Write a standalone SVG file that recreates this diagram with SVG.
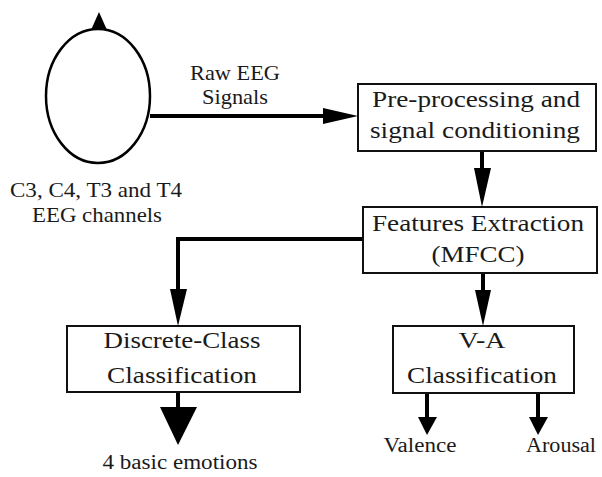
<svg xmlns="http://www.w3.org/2000/svg" width="602" height="477" viewBox="0 0 602 477">
<style>
text{font-family:'Liberation Serif',Tinos,'Times New Roman',Times,serif;fill:#1a1a1a;text-anchor:middle}
.bt{font-size:24px}
.lb{font-size:22px}
.sm{font-size:20px}
.box{fill:#fff;stroke:#111;stroke-width:2}
.ln{fill:none;stroke:#000;stroke-width:4}
.ah{fill:#000}
</style>
<rect width="602" height="477" fill="#fff"/>
<g id="head">
<polygon class="ah" points="99,12 91,30 107,30"/>
<ellipse cx="98" cy="96" rx="52" ry="67" fill="#fff" stroke="#000" stroke-width="2.5"/>
<text class="lb" x="96" y="197" textLength="172" lengthAdjust="spacingAndGlyphs">C3, C4, T3 and T4</text>
<text class="lb" x="97" y="222" textLength="130" lengthAdjust="spacingAndGlyphs">EEG channels</text>
</g>
<g id="connectors">
<line class="ln" x1="150" y1="116" x2="325" y2="116"/>
<polygon class="ah" points="323,108 358,116 323,124"/>
<text class="lb" x="235" y="80" textLength="90" lengthAdjust="spacingAndGlyphs">Raw EEG</text>
<text class="lb" x="235" y="104" textLength="66" lengthAdjust="spacingAndGlyphs">Signals</text>
<line class="ln" x1="482" y1="151" x2="482" y2="170"/>
<polygon class="ah" points="474,168 491,168 482,207"/>
<path class="ln" d="M363,239 H178 V291"/>
<polygon class="ah" points="170,289 187,289 178,326"/>
<line class="ln" x1="483" y1="273" x2="483" y2="292"/>
<polygon class="ah" points="475,290 491,290 483,326"/>
<line class="ln" x1="178" y1="392" x2="178" y2="409" stroke-width="5"/>
<polygon class="ah" points="160,407 197,407 178,445"/>
<line class="ln" x1="427" y1="393" x2="427" y2="419"/>
<polygon class="ah" points="418,417 437,417 427,435"/>
<line class="ln" x1="538" y1="393" x2="538" y2="419"/>
<polygon class="ah" points="529,417 548,417 538,435"/>
</g>
<g id="preprocessing">
<rect class="box" x="358" y="84" width="238" height="67"/>
<text class="bt" x="476" y="107" textLength="208" lengthAdjust="spacingAndGlyphs">Pre-processing and</text>
<text class="bt" x="475" y="138" textLength="210" lengthAdjust="spacingAndGlyphs">signal conditioning</text>
</g>
<g id="features">
<rect class="box" x="363" y="207" width="234" height="66"/>
<text class="bt" x="478" y="231" textLength="212" lengthAdjust="spacingAndGlyphs">Features Extraction</text>
<text class="bt" x="478" y="262" textLength="93" lengthAdjust="spacingAndGlyphs">(MFCC)</text>
</g>
<g id="discrete">
<rect class="box" x="67" y="326" width="233" height="66"/>
<text class="bt" x="182" y="348" textLength="157" lengthAdjust="spacingAndGlyphs">Discrete-Class</text>
<text class="bt" x="182" y="383" textLength="150" lengthAdjust="spacingAndGlyphs">Classification</text>
</g>
<g id="va">
<rect class="box" x="393" y="326" width="181" height="67"/>
<text class="bt" x="482" y="348" textLength="47" lengthAdjust="spacingAndGlyphs">V-A</text>
<text class="bt" x="482" y="383" textLength="150" lengthAdjust="spacingAndGlyphs">Classification</text>
</g>
<g id="outputs">
<text class="sm" x="180" y="469" textLength="155" lengthAdjust="spacingAndGlyphs">4 basic emotions</text>
<text class="sm" x="420" y="452" textLength="73" lengthAdjust="spacingAndGlyphs">Valence</text>
<text class="sm" x="561" y="452" textLength="70" lengthAdjust="spacingAndGlyphs">Arousal</text>
</g>
</svg>
